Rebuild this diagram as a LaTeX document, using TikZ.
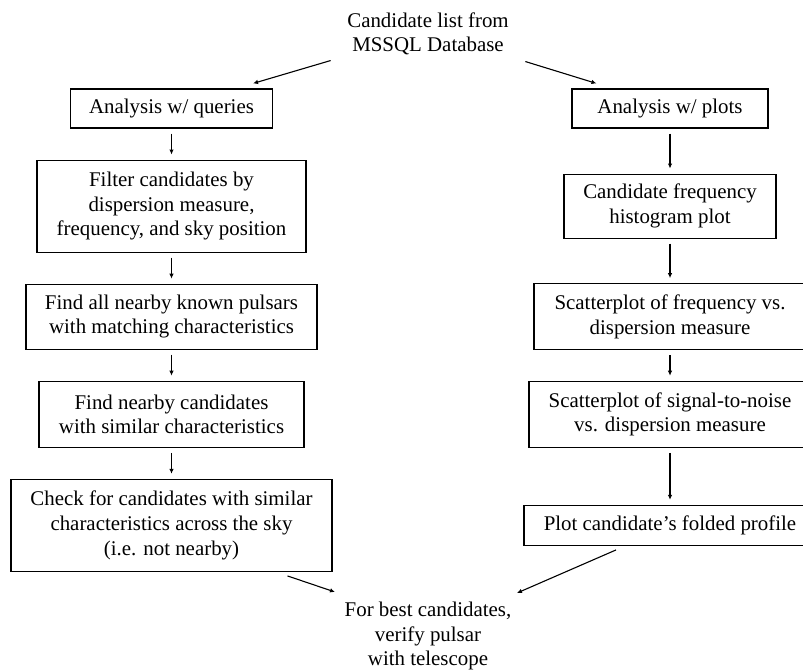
\documentclass[tikz,border=0pt]{standalone}
\usepackage{fontspec}
\setmainfont{Liberation Serif}
\usepackage{tikz}
\usetikzlibrary{positioning, arrows.meta}

\begin{document}
\begin{tikzpicture}[node distance=31pt, every node/.style={font=\fontsize{20.9pt}{24.6pt}\selectfont, align=center, inner sep=2pt},
    flowbox/.style={draw, line width=1.1pt, inner sep=3pt}]
    \useasboundingbox (0,0) rectangle (803pt,671pt);
    \node (src) at (428pt,637pt) {Candidate list from\\MSSQL Database};
    \node[flowbox, minimum width=202pt, minimum height=39pt] (qry) at (171.5pt,562.5pt) {Analysis w/ queries};
    \node[flowbox, minimum width=269pt, minimum height=92pt, below=of qry] (filt) {Filter candidates by\\dispersion measure,\\frequency, and sky position};
    \node[flowbox, minimum width=291pt, minimum height=65pt, below=of filt] (known) {Find all nearby known pulsars\\with matching characteristics};
    \node[flowbox, minimum width=265pt, minimum height=66pt, below=of known] (near) {Find nearby candidates\\with similar characteristics};
    \node[flowbox, minimum width=321pt, minimum height=92pt, below=of near] (sky) {Check for candidates with similar\\characteristics across the sky\\(i.e. not nearby)};
    \node[flowbox, minimum width=196pt, minimum height=39pt] (plots) at ([xshift=498.5pt]qry) {Analysis w/ plots};
    \node[flowbox, minimum width=212pt, minimum height=64pt] (hist) at (filt -| plots) {Candidate frequency\\histogram plot};
    \node[flowbox, minimum width=272pt, minimum height=66pt] (fdm) at (known -| plots) {Scatterplot of frequency vs.\\dispersion measure};
    \node[flowbox, minimum width=282pt, minimum height=66pt] (sdm) at (near -| plots) {Scatterplot of signal-to-noise\\vs. dispersion measure};
    \node[flowbox, minimum width=292pt, minimum height=40pt] (fold) at (sky -| plots) {Plot candidate’s folded profile};
    \node (best) at (428pt,35pt) {For best candidates,\\verify pulsar\\with telescope};
    \draw[-{Latex[length=5pt,width=4.5pt]}, line width=1.1pt] ([shift={(-14.5pt,-3pt)}]src.south west) -- ([shift={(-20pt,5pt)}]qry.north east);
    \draw[-{Latex[length=5pt,width=4.5pt]}, line width=1.1pt] ([shift={(14.5pt,-4pt)}]src.south east) -- ([shift={(25pt,5pt)}]plots.north west);
    \foreach \a/\b in {qry/filt, filt/known, known/near, near/sky, plots/hist, hist/fdm, fdm/sdm, sdm/fold}
        \draw[-{Latex[length=5pt,width=4.5pt]}, line width=1.1pt, shorten <=5pt, shorten >=5pt] (\a.south) -- (\b.north);
    \draw[-{Latex[length=5pt,width=4.5pt]}, line width=1.1pt] ([shift={(-45pt,-4pt)}]sky.south east) -- ([shift={(-7.5pt,7.7pt)}]best.north west);
    \draw[-{Latex[length=5pt,width=4.5pt]}, line width=1.1pt] ([shift={(-54pt,-4pt)}]fold.south) -- ([shift={(3.5pt,6.7pt)}]best.north east);
\end{tikzpicture}
\end{document}
